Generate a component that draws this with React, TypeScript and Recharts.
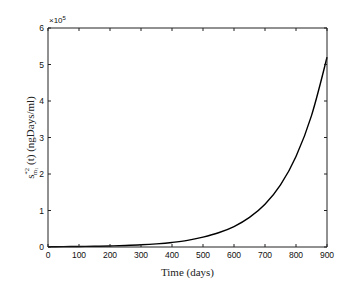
import React from "react";
import { LineChart, Line, XAxis, YAxis } from "recharts";

const days = [0, 50, 100, 150, 200, 250, 300, 350, 400, 450, 500, 550, 600, 650, 700, 750, 800, 850, 900];
// values in units of 1e5 ngDays/ml
const sValues = [0.007, 0.01, 0.014, 0.02, 0.029, 0.042, 0.06, 0.087, 0.125, 0.18, 0.27, 0.39, 0.56, 0.81, 1.17, 1.7, 2.48, 3.6, 5.2];
const xTicks = [0, 100, 200, 300, 400, 500, 600, 700, 800, 900];
const yTicks = [0, 100000, 200000, 300000, 400000, 500000, 600000];

const data = days.map((d, i) => ({ t: d, s: sValues[i] * 1e5 }));

const tickFont = "Arial, 'Liberation Sans', Helvetica, sans-serif";
const serif = "'Liberation Serif', 'DejaVu Serif', serif";

const BottomTick = ({ x, y, payload }: any) => (
  <g>
    <line x1={x} y1={y} x2={x} y2={y - 3} stroke="#222" />
    <text x={x} y={y + 11} textAnchor="middle" fontSize={8.5} fontFamily={tickFont} fill="#111">
      {payload.value}
    </text>
  </g>
);

const LeftTick = ({ x, y, payload }: any) => (
  <g>
    <line x1={x} y1={y} x2={x + 3} y2={y} stroke="#222" />
    <text x={x - 4} y={y + 3} textAnchor="end" fontSize={8.5} fontFamily={tickFont} fill="#111">
      {payload.value / 1e5}
    </text>
  </g>
);

const TopTick = ({ x, y }: any) => <line x1={x} y1={y} x2={x} y2={y + 3} stroke="#222" />;
const RightTick = ({ x, y }: any) => <line x1={x} y1={y} x2={x - 3} y2={y} stroke="#222" />;

const YLabel = ({ viewBox }: any) => {
  const cx = viewBox.x + 34;
  const cy = viewBox.y + viewBox.height / 2;
  return (
    <text
      x={cx}
      y={cy}
      transform={`rotate(-90, ${cx}, ${cy})`}
      textAnchor="middle"
      fontFamily={serif}
      fontSize={11}
      fill="#222"
    >
      s
      <tspan fontSize={6.5} dy={-5}>*2</tspan>
      <tspan fontSize={6.5} dx={-7} dy={8}>m</tspan>
      <tspan fontSize={4.5} dy={1}>1</tspan>
      <tspan fontSize={11} dy={-4}>{" (t)  (ngDays/ml)"}</tspan>
    </text>
  );
};

const Exponent = ({ viewBox }: any) => (
  <text x={viewBox.x + 1} y={viewBox.y - 4} fontSize={8} fontFamily={tickFont} fill="#111">
    ×10
    <tspan fontSize={6} dy={-3}>5</tspan>
  </text>
);

export default function App() {
  return (
    <div style={{ width: 363, height: 283, background: "#fff" }}>
      <style>{`body{margin:0}`}</style>
      <LineChart width={363} height={283} data={data} margin={{ top: 27, right: 35, bottom: 0, left: 0 }}>
        <XAxis
          dataKey="t"
          type="number"
          domain={[0, 900]}
          ticks={xTicks}
          height={36}
          tickSize={0}
          tickMargin={0}
          tickLine={false}
          axisLine={{ stroke: "#222" }}
          tick={<BottomTick />}
          interval={0}
          label={{
            value: "Time (days)",
            position: "insideBottom",
            offset: 7,
            style: { fontFamily: serif, fontSize: 11, fill: "#222" },
          }}
        />
        <XAxis
          xAxisId="top"
          orientation="top"
          dataKey="t"
          type="number"
          domain={[0, 900]}
          ticks={xTicks}
          height={1}
          tickSize={0}
          tickMargin={0}
          tickLine={false}
          axisLine={{ stroke: "#222" }}
          tick={<TopTick />}
          interval={0}
          label={<Exponent />}
        />
        <YAxis
          type="number"
          domain={[0, 600000]}
          ticks={yTicks}
          width={48}
          tickSize={0}
          tickMargin={0}
          tickLine={false}
          axisLine={{ stroke: "#222" }}
          tick={<LeftTick />}
          interval={0}
          label={<YLabel />}
        />
        <YAxis
          yAxisId="right"
          orientation="right"
          type="number"
          domain={[0, 600000]}
          ticks={yTicks}
          width={1}
          tickSize={0}
          tickMargin={0}
          tickLine={false}
          axisLine={{ stroke: "#222" }}
          tick={<RightTick />}
          interval={0}
        />
        <Line
          type="monotone"
          dataKey="s"
          stroke="#000"
          strokeWidth={1.4}
          dot={false}
          isAnimationActive={false}
        />
        <Line
          xAxisId="top"
          yAxisId="right"
          type="monotone"
          dataKey="s"
          stroke="none"
          dot={false}
          activeDot={false}
          legendType="none"
          isAnimationActive={false}
        />
      </LineChart>
    </div>
  );
}
